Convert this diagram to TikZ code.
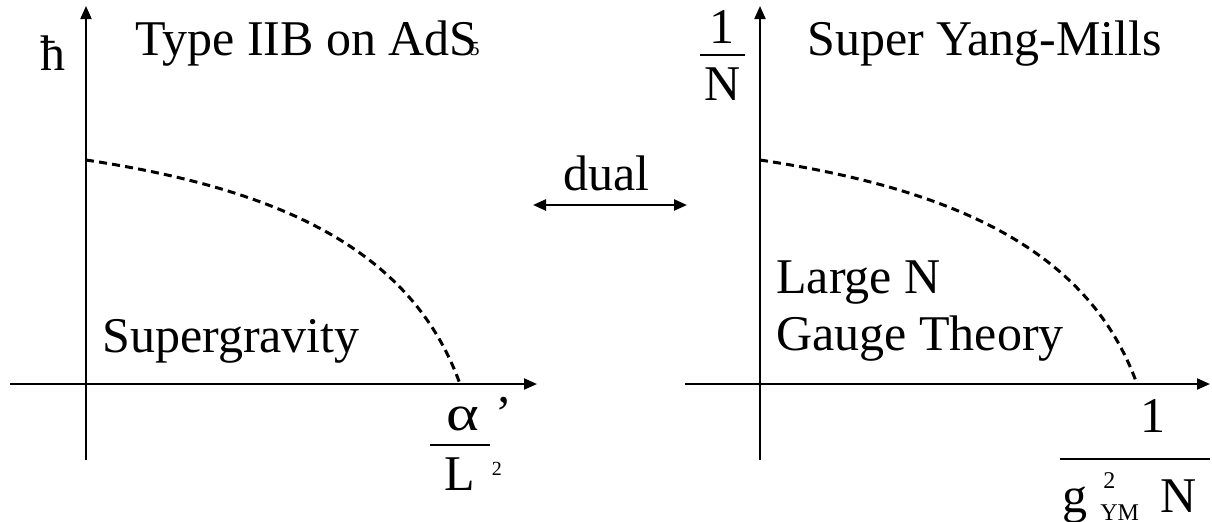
\documentclass[tikz,border=0pt]{standalone}
\usepackage{fontspec}
\setmainfont{Liberation Serif}
\usetikzlibrary{arrows.meta}
\tikzset{
  tip/.tip={Triangle[length=6.5pt,width=5.5pt]},
  axis/.style={line width=1pt,-tip},
  curve/.style={line width=1.5pt,dash pattern=on 4pt off 2.6pt},
  lbl/.style={inner sep=0pt,anchor=base west,font=\fontsize{25}{28}\selectfont},
  bar/.style={line width=1.2pt},
}
\begin{document}
\begin{tikzpicture}[x=0.5pt,y=-0.5pt]
\useasboundingbox (0,0) rectangle (1212,521);
% left panel
\coordinate (lxs) at (10,384);
\coordinate (lxe) at (537,384);
\coordinate (lys) at (86,460);
\coordinate (lye) at (86,6);
\draw[axis] (lxs) -- (lxe);
\draw[axis] (lys) -- (lye);
\coordinate (lc0) at (86,160);
\coordinate (lc1) at (460,384);
\draw[curve] (lc0) .. controls (286,190) and (413,253) .. (lc1);
\node[lbl] (hbar) at (40,70) {ħ};
\node[lbl] (typeiib) at (135,55) {Type IIB on AdS\kern-4pt\raisebox{0pt}{\fontsize{10}{10}\selectfont 5}};
\node[lbl] (sugra) at (102,352) {Supergravity};
\node[lbl] (alpha) at (446,430) {\scalebox{1.25}[1]{α}\kern8pt’};
\coordinate (ab0) at (430,445);
\coordinate (ab1) at (490,445);
\draw[bar] (ab0) -- (ab1);
\node[lbl] (lsq) at (444,490) {L\kern8.5pt\raisebox{7.5pt}{\fontsize{10}{10}\selectfont 2}};
% dual
\node[lbl] (dual) at (563,190) {dual};
\coordinate (d0) at (533,205);
\coordinate (d1) at (687,205);
\draw[line width=1.2pt,tip-tip] (d0) -- (d1);
% right panel
\coordinate (rxs) at (685,384);
\coordinate (rxe) at (1210,384);
\coordinate (rys) at (760,460);
\coordinate (rye) at (760,6);
\draw[axis] (rxs) -- (rxe);
\draw[axis] (rys) -- (rye);
\coordinate (rc0) at (760,160);
\coordinate (rc1) at (1137,384);
\draw[curve] (rc0) .. controls (960,190) and (1090,253) .. (rc1);
\node[lbl] (one) at (709,43) {1};
\coordinate (nb0) at (700,55);
\coordinate (nb1) at (745,55);
\draw[bar] (nb0) -- (nb1);
\node[lbl] (en) at (704,100) {N};
\node[lbl] (sym) at (807,55) {Super Yang-Mills};
\node[lbl] (largen) at (776,293) {Large N};
\node[lbl] (gauge) at (776,350) {Gauge Theory};
\node[lbl] (one2) at (1140,432) {1};
\coordinate (gb0) at (1060,459);
\coordinate (gb1) at (1210,459);
\draw[bar] (gb0) -- (gb1);
\node[lbl] (gym) at (1062,512) {g\rlap{\kern8pt\raisebox{12pt}{\fontsize{12}{12}\selectfont 2}}\kern6.5pt\raisebox{-4pt}{\fontsize{12}{12}\selectfont YM}\kern10.5pt N};
\end{tikzpicture}
\end{document}
